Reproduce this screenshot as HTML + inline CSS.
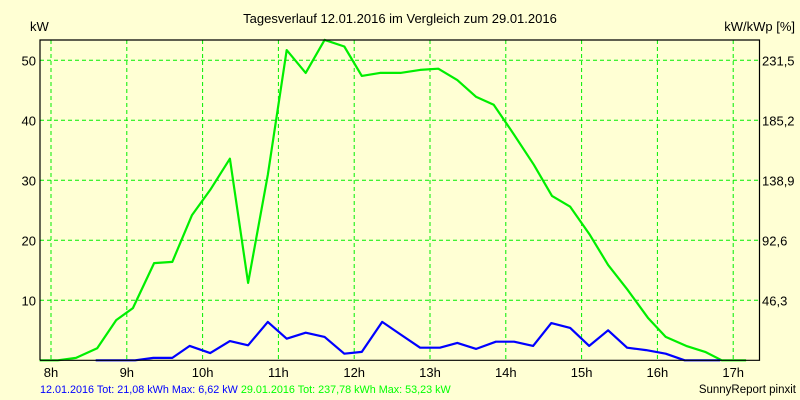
<!DOCTYPE html>
<html><head><meta charset="utf-8">
<style>
html,body{margin:0;padding:0;background:#ffffd4;}
svg{display:block;font-family:"Liberation Sans",sans-serif;}
</style></head>
<body>
<svg id="chart" width="800" height="400" viewBox="0 0 800 400" xmlns="http://www.w3.org/2000/svg">
<rect x="0" y="0" width="800" height="400" fill="#ffffd4"/>
<text x="400" y="23" font-size="13" text-anchor="middle" fill="#000">Tagesverlauf 12.01.2016 im Vergleich zum 29.01.2016</text>
<text x="30" y="31" font-size="13" fill="#000">kW</text>
<text x="795" y="31" font-size="13" text-anchor="end" fill="#000">kW/kWp [%]</text>
<g id="grid"></g>
<g id="series"></g>
<g id="axes"></g>
<text x="40" y="393" font-size="10.8"><tspan fill="#0000ff">12.01.2016 Tot: 21,08 kWh Max: 6,62 kW</tspan><tspan fill="#00ff00"> 29.01.2016 Tot: 237,78 kWh Max: 53,23 kW</tspan></text>
<text x="796" y="393" font-size="11.5" text-anchor="end" fill="#000">SunnyReport pinxit</text>
</svg>
<script>
const hourTicks = [8, 9, 10, 11, 12, 13, 14, 15, 16, 17];
const kwTicks = [10, 20, 30, 40, 50];
const pctTicks = ["46,3", "92,6", "138,9", "185,2", "231,5"];
const greenTimes = [7.85,8.09,8.33,8.61,8.86,9.08,9.36,9.60,9.86,10.10,10.36,10.60,10.86,11.11,11.36,11.61,11.87,12.10,12.34,12.61,12.87,13.11,13.36,13.61,13.84,14.11,14.37,14.61,14.85,15.11,15.35,15.61,15.88,16.11,16.38,16.63,16.85,17.17];
const greenValues = [0,0,0.4,2,6.7,8.7,16.2,16.4,24.2,28.4,33.6,12.9,30.9,51.7,47.9,53.4,52.3,47.4,47.9,47.9,48.4,48.6,46.7,43.9,42.6,37.6,32.6,27.4,25.6,20.9,15.9,11.7,7.0,3.9,2.4,1.4,0,0];
const blueTimes = [8.59,8.84,9.11,9.35,9.60,9.83,10.10,10.36,10.60,10.86,11.11,11.36,11.61,11.87,12.10,12.37,12.60,12.87,13.13,13.36,13.61,13.87,14.11,14.36,14.60,14.85,15.10,15.35,15.60,15.85,16.11,16.36,16.83];
const blueValues = [0,0,0,0.4,0.4,2.4,1.2,3.2,2.5,6.4,3.6,4.6,3.9,1.1,1.4,6.4,4.4,2.1,2.1,2.9,1.9,3.1,3.1,2.4,6.2,5.4,2.4,5.0,2.1,1.7,1.1,0,0];

const L = 40, R = 759.5, T = 40, B = 360.3;
const x = h => 51 + (h - 8) * 75.8;
const y = v => B - v * 6;
const NS = "http://www.w3.org/2000/svg";
function mk(tag, attrs, parent) {
  const e = document.createElementNS(NS, tag);
  for (const k in attrs) e.setAttribute(k, attrs[k]);
  parent.appendChild(e);
  return e;
}
const grid = document.getElementById('grid');
const axes = document.getElementById('axes');
const series = document.getElementById('series');

hourTicks.forEach(h => {
  const l = mk('line', {x1: x(h), x2: x(h), y1: T, y2: B, stroke: '#00ee00', 'stroke-width': 1, 'stroke-dasharray': '4,3'}, grid);
  
  
  const t = mk('text', {x: x(h), y: 377, 'font-size': 13, 'text-anchor': 'middle', fill: '#000'}, axes);
  t.textContent = h + 'h';
  
  
});
kwTicks.forEach((v, i) => {
  const l = mk('line', {x1: L, x2: R, y1: y(v), y2: y(v), stroke: '#00ee00', 'stroke-width': 1, 'stroke-dasharray': '4,3'}, grid);
  
  
  const t = mk('text', {x: 36, y: y(v) + 5, 'font-size': 13, 'text-anchor': 'end', fill: '#000'}, axes);
  t.textContent = v;
  
  
  const t2 = mk('text', {x: 762, y: y(v) + 5, 'font-size': 13, fill: '#000'}, axes);
  t2.textContent = pctTicks[i];
  
  
});
const frame = mk('path', {d: `M${L},${B} L${L},${T} L${R},${T} L${R},${B} L${L},${B}`, fill: 'none', stroke: '#000', 'stroke-width': 1.2}, axes);



function line(times, vals, color, name) {
  const d = times.map((t, i) => (i ? 'L' : 'M') + x(t).toFixed(1) + ',' + y(vals[i]).toFixed(1)).join(' ');
  const p = mk('path', {d, fill: 'none', stroke: color, 'stroke-width': 2.2, 'stroke-linejoin': 'round'}, series);
  
  
}
line(greenTimes, greenValues, '#00ee00', 'line-29-01-2016');
line(blueTimes, blueValues, '#0000ff', 'line-12-01-2016');
</script>
</body></html>
